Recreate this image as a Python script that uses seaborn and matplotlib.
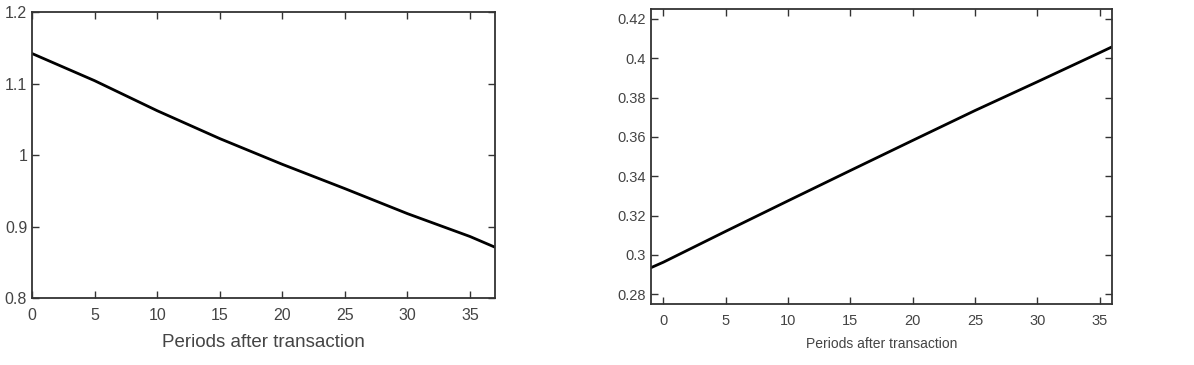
import numpy as np
import pandas as pd
import seaborn as sns
import matplotlib
matplotlib.use("Agg")
import matplotlib.pyplot as plt

# Left panel data
left_periods = [0, 5, 10, 15, 20, 25, 30, 35, 37]
left_values = [1.142, 1.104, 1.062, 1.023, 0.987, 0.953, 0.918, 0.886, 0.871]

# Right panel data
right_periods = [-1, 0, 5, 10, 15, 20, 25, 30, 35, 36]
right_values = [0.2935, 0.2963, 0.3120, 0.3275, 0.3429, 0.3582, 0.3734, 0.3880, 0.4028, 0.4058]

left_xticks = [0, 5, 10, 15, 20, 25, 30, 35]
left_yticks = [0.8, 0.9, 1.0, 1.1, 1.2]
left_yticklabels = ["0.8", "0.9", "1", "1.1", "1.2"]
right_xticks = [0, 5, 10, 15, 20, 25, 30, 35]
right_yticks = [0.28, 0.30, 0.32, 0.34, 0.36, 0.38, 0.40, 0.42]
right_yticklabels = ["0.28", "0.3", "0.32", "0.34", "0.36", "0.38", "0.4", "0.42"]
xlabel = "Periods after transaction"

sns.set_theme(style="white")
plt.rcParams['font.family'] = ['Liberation Sans', 'DejaVu Sans']

fig = plt.figure(figsize=(11.94, 3.65), dpi=100)
ax1 = fig.add_axes([0.0268, 0.1836, 0.3878, 0.7834])
ax2 = fig.add_axes([0.5452, 0.167, 0.3861, 0.808])

dfl = pd.DataFrame({"x": left_periods, "y": left_values})
dfr = pd.DataFrame({"x": right_periods, "y": right_values})
sns.lineplot(data=dfl, x="x", y="y", ax=ax1, color="black", linewidth=2)
sns.lineplot(data=dfr, x="x", y="y", ax=ax2, color="black", linewidth=2)

tick_col = "#444444"
for ax in (ax1, ax2):
    for s in ax.spines.values():
        s.set_color("#333333")
        s.set_linewidth(1.3)
        s.set_visible(True)
    ax.tick_params(direction="in", length=5, width=1, colors="#333333",
                   top=True, right=True, bottom=True, left=True,
                   labelcolor=tick_col, labelsize=10.5)
    ax.tick_params(axis="x", pad=7)
    ax.set_ylabel("")

ax1.set_xlim(0, 37)
ax1.set_ylim(0.8, 1.2)
ax1.set_xticks(left_xticks)
ax1.set_yticks(left_yticks)
ax1.set_yticklabels(left_yticklabels)
ax1.set_xlabel(xlabel, fontsize=13.5, color=tick_col, labelpad=8)
ax1.tick_params(labelsize=11.5)

ax2.set_xlim(-1, 36)
ax2.set_ylim(0.275, 0.425)
ax2.set_xticks(right_xticks)
ax2.set_yticks(right_yticks)
ax2.set_yticklabels(right_yticklabels)
ax2.set_xlabel(xlabel, fontsize=10, color=tick_col, labelpad=7)

fig.savefig("out.png", dpi=100, facecolor="white")
